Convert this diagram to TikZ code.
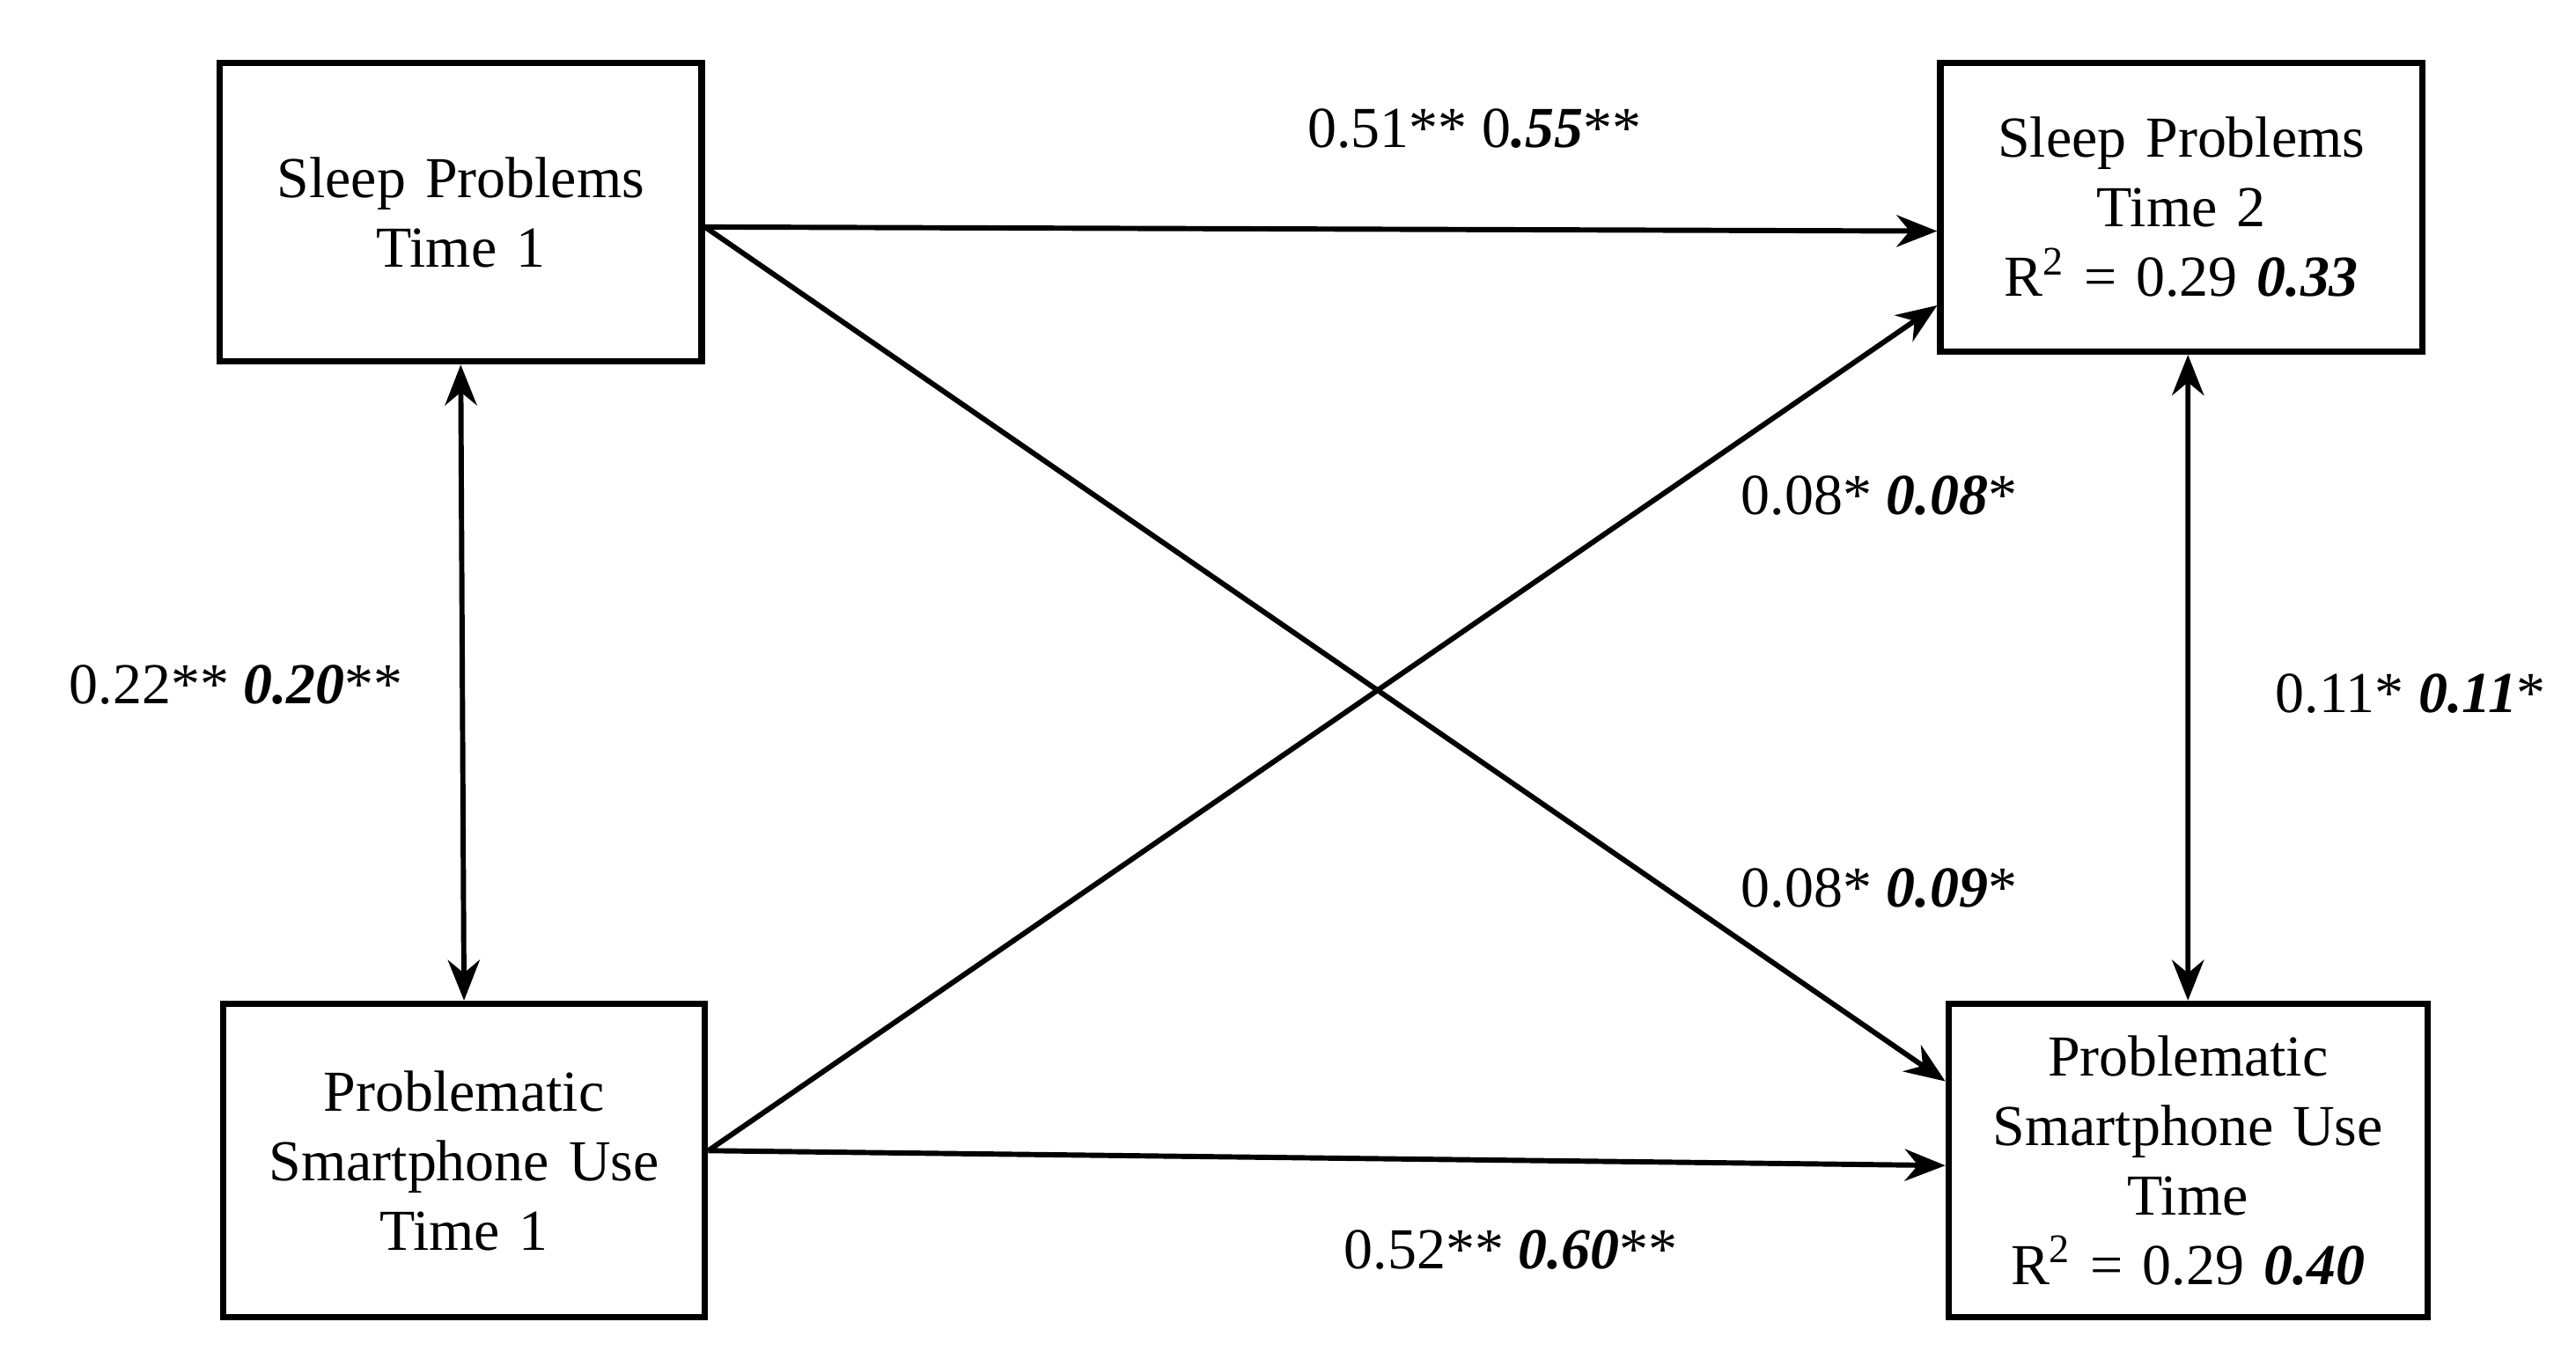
\documentclass[tikz,border=0pt]{standalone}
\usepackage{fontspec}
\setmainfont{Liberation Serif}
\usetikzlibrary{arrows.meta}
\begin{document}
\begin{tikzpicture}[x=0.02cm,y=-0.02cm,
  box/.style={draw,line width=2.2pt,align=center,font=\fontsize{20}{24}\selectfont,inner sep=0pt},
  lab/.style={font=\fontsize{20}{24}\selectfont},
  arr/.style={line width=1.8pt,-{Stealth[length=14pt,width=11pt]}},
  darr/.style={line width=1.8pt,{Stealth[length=14pt,width=11pt]}-{Stealth[length=14pt,width=11pt]}}]
\useasboundingbox (0,0) rectangle (1560,827);
\newcommand{\bi}[1]{\textbf{\textit{#1}}}
\node[box,minimum width=292\pgflinewidth,text width=5.6cm,minimum width=5.84cm,minimum height=3.62cm] (sp1) at (279,128.5) {Sleep Problems\\Time 1};
\node[box,text width=5.6cm,minimum width=5.84cm,minimum height=3.5cm] (sp2) at (1321,125.5) {Sleep Problems\\Time 2\\R\textsuperscript{2} = 0.29 \bi{0.33}};
\node[box,text width=5.6cm,minimum width=5.84cm,minimum height=3.8cm] (psu1) at (281,703) {Problematic\\Smartphone Use\\Time 1};
\node[box,text width=5.6cm,minimum width=5.8cm,minimum height=3.8cm] (psu2) at (1325,703) {Problematic\\Smartphone Use\\Time\\R\textsuperscript{2} = 0.29 \bi{0.40}};
\draw[arr] ([yshift=-0.18cm]sp1.east) -- ([yshift=-0.29cm]sp2.west);
\draw[arr] ([yshift=-0.18cm]sp1.east) -- ([yshift=0.96cm]psu2.west);
\draw[arr] ([yshift=0.12cm]psu1.east) -- ([yshift=-1.19cm]sp2.west);
\draw[arr] ([yshift=0.12cm]psu1.east) -- ([yshift=-0.06cm]psu2.west);
\draw[darr] (sp1.south) -- (psu1.north);
\draw[darr] ([xshift=0.08cm]sp2.south) -- ([xshift=0cm]psu2.north);
\node[lab] (l1) at (893,78) {0.51** 0\bi{.55}**};
\node[lab] (l2) at (1138,300) {0.08* \bi{0.08}*};
\node[lab] (l3) at (143,415) {0.22** \bi{0.20}**};
\node[lab] (l4) at (1460,420) {0.11* \bi{0.11}*};
\node[lab] (l5) at (1138,538) {0.08* \bi{0.09}*};
\node[lab] (l6) at (915,757) {0.52** \bi{0.60}**};
\end{tikzpicture}
\end{document}
